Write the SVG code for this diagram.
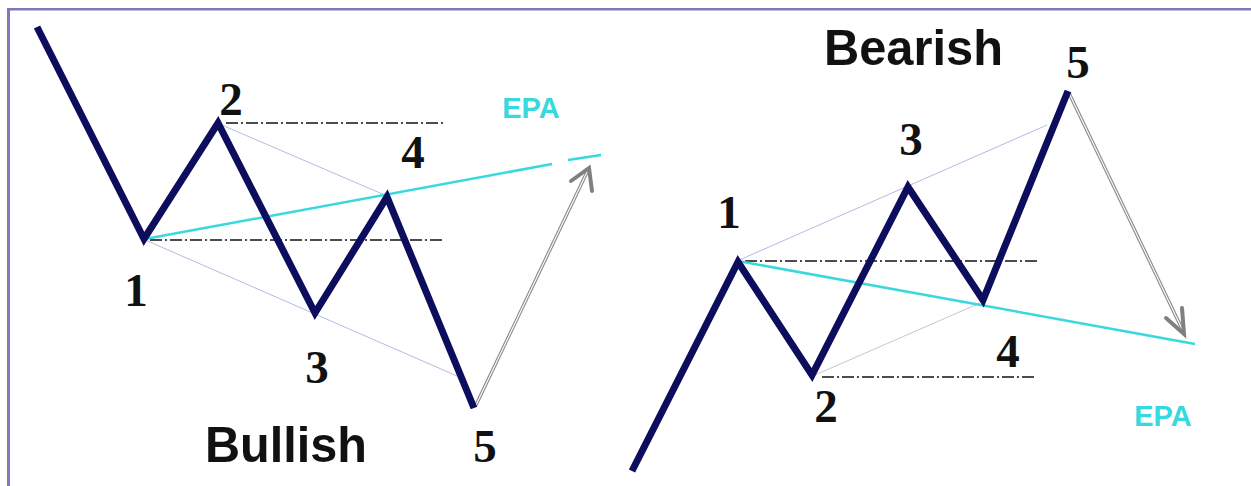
<svg xmlns="http://www.w3.org/2000/svg" width="1251" height="486" viewBox="0 0 1251 486">
<style>
.wave{fill:none;stroke:#0d0d5e;stroke-width:7;stroke-linejoin:miter;stroke-linecap:butt}
.ref{fill:none;stroke:#111;stroke-width:1.3;stroke-dasharray:12 3 2 3}
.thin{fill:none;stroke:#b8b8e6;stroke-width:1}
.thing{fill:none;stroke:#c8c8c8;stroke-width:1}
.epa{fill:none;stroke:#38d8df;stroke-width:2.5}
.arw{fill:none;stroke:#8c8c8c;stroke-width:3.4}
.arwin{fill:none;stroke:#ffffff;stroke-width:1.1}
.head{fill:none;stroke:#808080;stroke-width:4;stroke-linecap:round;stroke-linejoin:miter}
.num{font-family:"Liberation Serif",serif;font-weight:bold;font-size:47px;fill:#111;text-anchor:middle}
.title{font-family:"Liberation Sans",Arial,sans-serif;font-weight:bold;font-size:50px;fill:#111}
.epat{font-family:"Liberation Sans",Arial,sans-serif;font-weight:bold;font-size:29px;fill:#38d8df;text-anchor:middle}
</style>
<rect x="0" y="0" width="1251" height="486" fill="#ffffff"/>
<g id="frame">
<rect x="7" y="8" width="1244" height="2.5" fill="#7b7bba"/>
<rect x="7" y="8" width="3" height="478" fill="#7b7bba"/>
</g>
<g id="connectors">
<!-- Bullish -->
<polyline class="ref" points="226,123 443,123"/>
<polyline class="ref" points="150,240 443,240"/>
<polyline class="thin" points="217,123 387,196"/>
<polyline class="thin" points="143,239 457,376"/>
<polyline class="epa" points="145,239 552,164"/>
<polyline class="epa" points="568,160 601,155"/>
<polyline class="arw" points="476,405 588,170"/>
<polyline class="arwin" points="476,405 588,170"/>
<polyline class="head" points="571,181 589,168 592,191"/>
<!-- Bearish -->
<polyline class="ref" points="745,261 1037,261"/>
<polyline class="ref" points="822,377 1036,377"/>
<polyline class="thin" points="737,261 1047,125"/>
<polyline class="thing" points="815,375 980,303"/>
<polyline class="epa" points="738,261 1195,344"/>
<polyline class="arw" points="1069,93 1183,331"/>
<polyline class="arwin" points="1069,93 1183,331"/>
<polyline class="head" points="1166,318 1184,334 1182,308"/>
</g>
<g id="bullish-wave">
<polyline class="wave" points="37,27 144,239 218,123 315,313 387,197 474,408"/>
</g>
<g id="bearish-wave">
<polyline class="wave" points="632,471 738,262 812,375 908,187 983,300 1068,91"/>
</g>
<g id="bullish-labels">
<text class="num" x="231" y="115">2</text>
<text class="num" x="136" y="306">1</text>
<text class="num" x="317" y="383">3</text>
<text class="num" x="413" y="168">4</text>
<text class="num" x="485" y="462">5</text>
<text class="title" x="205" y="462" textLength="162" lengthAdjust="spacingAndGlyphs">Bullish</text>
<text class="epat" x="531" y="118">EPA</text>
</g>
<g id="bearish-labels">
<text class="num" x="729" y="228">1</text>
<text class="num" x="911" y="155">3</text>
<text class="num" x="1078" y="78">5</text>
<text class="num" x="826" y="422">2</text>
<text class="num" x="1008" y="367">4</text>
<text class="title" x="824" y="65" textLength="179" lengthAdjust="spacingAndGlyphs">Bearish</text>
<text class="epat" x="1163" y="426">EPA</text>
</g>
</svg>
